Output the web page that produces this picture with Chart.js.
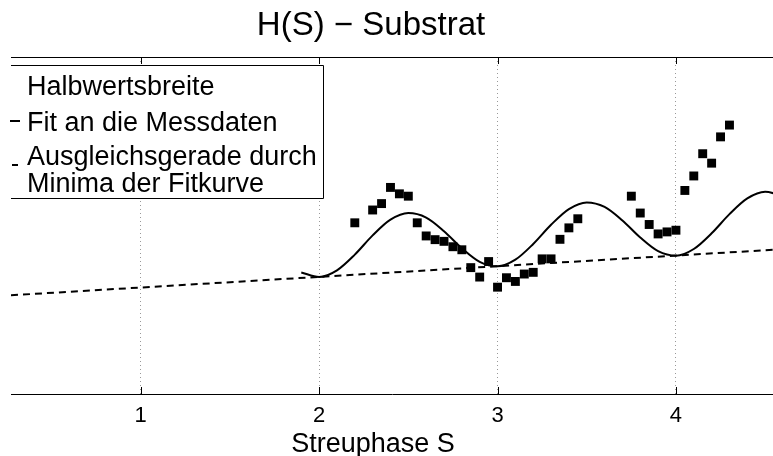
<!DOCTYPE html>
<html>
<head>
<meta charset="utf-8">
<script src="https://cdn.jsdelivr.net/npm/chart.js@4.4.0/dist/chart.umd.min.js"></script>
<style>
  html, body { margin: 0; padding: 0; background: #fff; }
  canvas { display: block; }
</style>
</head>
<body>
<canvas id="c" width="773" height="456"></canvas>
<script>
// Messdaten: Halbwertsbreite ueber Streuphase S
const messS = [2.20, 2.30, 2.35, 2.40, 2.45, 2.50, 2.55, 2.60, 2.65, 2.70, 2.75, 2.80, 2.85,
  2.90, 2.95, 3.00, 3.05, 3.10, 3.15, 3.20, 3.25, 3.30, 3.35, 3.40, 3.45,
  3.75, 3.80, 3.85, 3.90, 3.95, 4.00, 4.05, 4.10, 4.15, 4.20, 4.25, 4.30];
const messH = [50.8, 54.6, 56.5, 61.3, 59.4, 58.7, 50.8, 46.9, 45.8, 45.3, 43.7, 42.8, 37.5,
  34.7, 39.3, 31.7, 34.5, 33.4, 35.6, 36.1, 40.1, 40.1, 45.9, 49.3, 52.0,
  58.7, 53.7, 50.3, 47.5, 48.1, 48.6, 60.4, 64.7, 71.3, 68.5, 76.3, 79.8];

// Fitkurve
const fitS = [1.9, 2.0, 2.1, 2.2, 2.3, 2.4, 2.5, 2.6, 2.7, 2.8, 2.9, 3.0, 3.1, 3.2,
  3.3, 3.4, 3.5, 3.6, 3.7, 3.8, 3.9, 4.0, 4.1, 4.2, 4.3, 4.4, 4.5, 4.6];
const fitH = [36.06, 34.72, 36.70, 41.36, 47.06, 51.72, 53.70, 52.36, 48.32, 43.26, 39.22, 37.88,
  39.86, 44.52, 50.22, 54.88, 56.86, 55.52, 51.48, 46.42, 42.38, 41.04, 43.02, 47.68,
  53.38, 58.04, 60.02, 58.68];

// Ausgleichsgerade durch die Minima
const geradeS = [0.273, 4.544];
const geradeH = [29.3, 42.8];

const tickValues = [1, 2, 3, 4];
const legendLines = ['Halbwertsbreite', 'Fit an die Messdaten', 'Ausgleichsgerade durch', 'Minima der Fitkurve'];

const FONT = "'Liberation Sans', Arial, Helvetica, sans-serif";

const toPoints = (xs, ys) => xs.map((x, i) => ({ x, y: ys[i] }));

const decor = {
  id: 'decor',
  afterDraw(chart) {
    const ctx = chart.ctx;
    const a = chart.chartArea;
    const xs = chart.scales.x;
    ctx.save();
    ctx.strokeStyle = '#000';
    ctx.lineWidth = 1;

    // obere Rahmenlinie
    ctx.beginPath();
    ctx.moveTo(a.left, a.top + 0.5);
    ctx.lineTo(a.right, a.top + 0.5);
    ctx.stroke();

    // Ticks nach innen
    tickValues.forEach(v => {
      const px = Math.round(xs.getPixelForValue(v)) + 0.5;
      ctx.beginPath();
      ctx.moveTo(px, a.bottom);
      ctx.lineTo(px, a.bottom - 7);
      ctx.moveTo(px, a.top);
      ctx.lineTo(px, a.top + 7);
      ctx.stroke();
    });

    // Legende
    ctx.fillStyle = '#fff';
    ctx.fillRect(a.left, 65, 323 - a.left, 133);
    ctx.beginPath();
    ctx.moveTo(a.left, 65.5);
    ctx.lineTo(323.5, 65.5);
    ctx.lineTo(323.5, 198.5);
    ctx.lineTo(a.left, 198.5);
    ctx.stroke();

    ctx.lineWidth = 2;
    ctx.beginPath();
    ctx.moveTo(10, 121);
    ctx.lineTo(20, 121);
    ctx.moveTo(12, 165);
    ctx.lineTo(18, 165);
    ctx.stroke();

    ctx.fillStyle = '#000';
    ctx.textAlign = 'left';
    ctx.textBaseline = 'alphabetic';
    ctx.font = '27px ' + FONT;
    const baselines = [95, 131, 165, 192];
    legendLines.forEach((t, i) => ctx.fillText(t, 27, baselines[i]));

    // Titel und Achsenbeschriftung
    ctx.textAlign = 'center';
    ctx.font = '33px ' + FONT;
    ctx.fillText('H(S) \u2212 Substrat', 371, 35);
    ctx.font = '27px ' + FONT;
    ctx.fillText('Streuphase S', 373, 452);
    ctx.restore();
  }
};

new Chart(document.getElementById('c'), {
  type: 'scatter',
  data: {
    datasets: [
      {
        label: 'Halbwertsbreite',
        data: toPoints(messS, messH),
        pointStyle: 'rect',
        pointRadius: 6.3,
        backgroundColor: '#000',
        borderColor: '#000',
        borderWidth: 0,
        showLine: false,
        order: 1
      },
      {
        label: 'Fit an die Messdaten',
        data: toPoints(fitS, fitH),
        showLine: true,
        pointRadius: 0,
        borderColor: '#000',
        borderWidth: 2,
        cubicInterpolationMode: 'monotone',
        order: 2
      },
      {
        label: 'Ausgleichsgerade durch Minima der Fitkurve',
        data: toPoints(geradeS, geradeH),
        showLine: true,
        pointRadius: 0,
        borderColor: '#000',
        borderWidth: 2,
        borderDash: [7, 5],
        order: 3
      }
    ]
  },
  options: {
    responsive: false,
    animation: false,
    layout: { autoPadding: false, padding: { left: 11, top: 57, right: 0, bottom: 0 } },
    plugins: {
      legend: { display: false },
      title: { display: false },
      tooltip: { enabled: false }
    },
    scales: {
      x: {
        type: 'linear',
        min: 0.273,
        max: 4.544,
        afterBuildTicks: scale => { scale.ticks = tickValues.map(v => ({ value: v })); },
        afterFit: scale => {
          scale.height = 62;
          scale.paddingLeft = 0;
          scale.paddingRight = 0;
        },
        ticks: {
          color: '#000',
          padding: 9,
          font: { family: FONT, size: 22 }
        },
        grid: {
          color: 'rgba(0,0,0,0.4)',
          lineWidth: 1,
          drawTicks: false
        },
        border: { display: true, color: '#000', width: 1, dash: [1, 3] }
      },
      y: {
        display: false,
        min: 0,
        max: 100
      }
    }
  },
  plugins: [decor]
});
</script>
</body>
</html>
